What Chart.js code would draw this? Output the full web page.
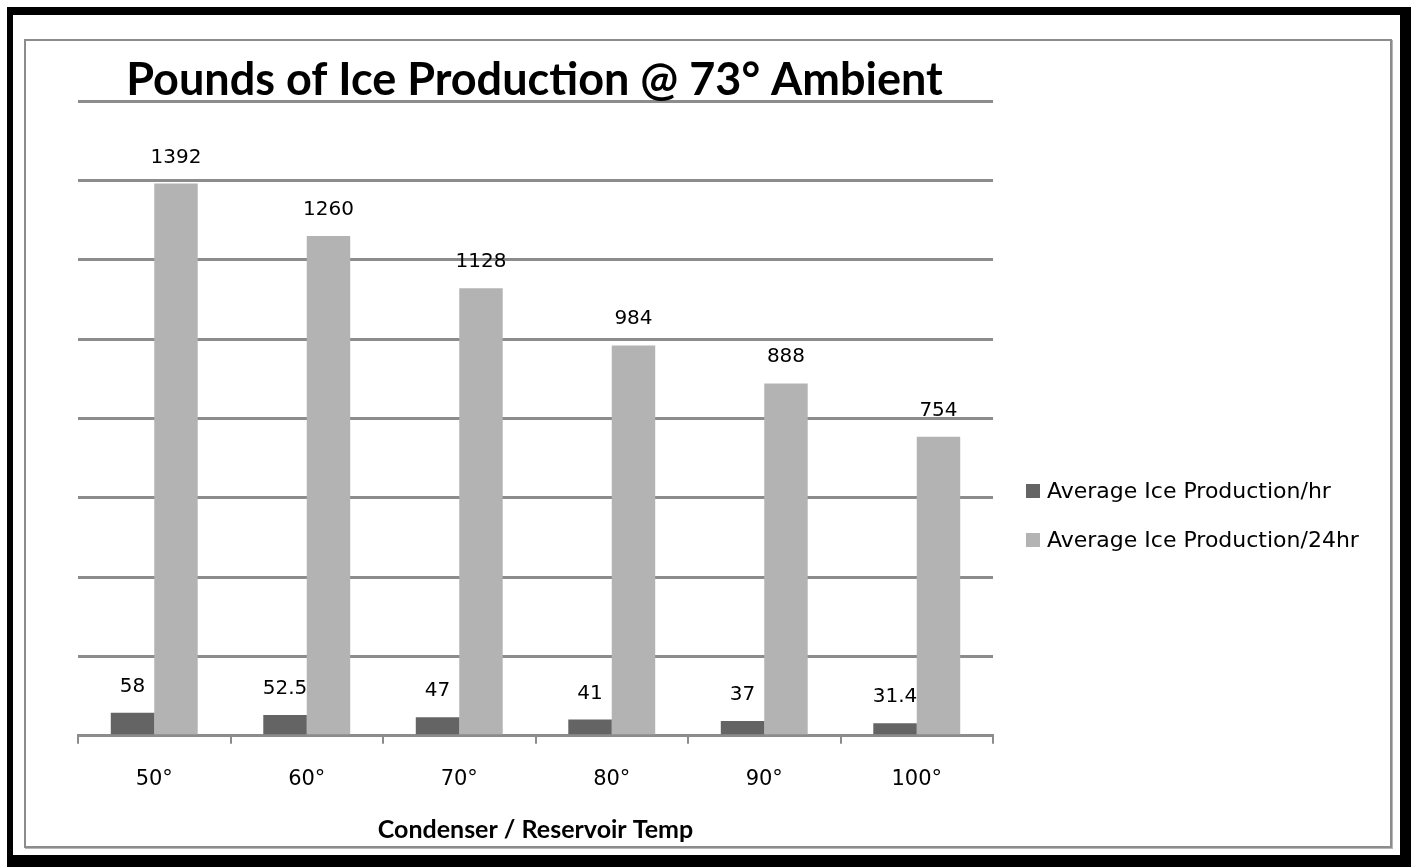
<!DOCTYPE html>
<html>
<head>
<meta charset="utf-8">
<script src="https://cdn.jsdelivr.net/npm/chart.js@4/dist/chart.umd.min.js"></script>
<style>
  html, body { margin: 0; padding: 0; background: #fff; }
  body { width: 1411px; height: 867px; position: relative; overflow: hidden; }
  #frame {
    position: absolute; left: 7px; top: 7px; width: 1404px; height: 860px;
    box-sizing: border-box; border-style: solid; border-color: #000;
    border-width: 8px 11px 12px 6px;
  }
  #box {
    position: absolute; left: 24px; top: 39px; width: 1368px; height: 809px;
    box-sizing: border-box; border: 2px solid #8c8c8c;
    box-shadow: 1px 1px 0 #b8b8b8;
  }
  #chart { position: absolute; left: 0; top: 0; }
</style>
</head>
<body>
<div id="frame"></div>
<div id="box"></div>
<canvas id="chart" width="1411" height="867"></canvas>
<script>
const categories = ['50°', '60°', '70°', '80°', '90°', '100°']
const perHour = [58, 52.5, 47, 41, 37, 31.4]
const per24Hours = [1392, 1260, 1128, 984, 888, 754]
const seriesNames = ['Average Ice Production/hr', 'Average Ice Production/24hr']
const chartTitle = 'Pounds of Ice Production @ 73° Ambient'
const xAxisTitle = 'Condenser / Reservoir Temp'

const GRID = '#8c8c8c'
const TEXT_FONT = '"DejaVu Sans", sans-serif'
const BOLD_FONT = 'Lato, "DejaVu Sans", sans-serif'

// value labels above every bar
const barLabels = {
  id: 'barLabels',
  afterDatasetsDraw (chart) {
    const ctx = chart.ctx
    ctx.save()
    ctx.font = '20px ' + TEXT_FONT
    ctx.fillStyle = '#000'
    ctx.textAlign = 'center'
    ctx.textBaseline = 'alphabetic'
    chart.data.datasets.forEach((ds, i) => {
      chart.getDatasetMeta(i).data.forEach((bar, j) => {
        ctx.fillText(String(ds.data[j]), bar.x, bar.y - 21)
      })
    })
    ctx.restore()
  }
}

// big title sitting on the top grid line
const topTitle = {
  id: 'topTitle',
  afterDraw (chart) {
    const ctx = chart.ctx
    const area = chart.chartArea
    ctx.save()
    ctx.font = 'bold 45px ' + BOLD_FONT
    ctx.fillStyle = '#000'
    ctx.textAlign = 'center'
    ctx.textBaseline = 'alphabetic'
    ctx.fillText(chartTitle, (area.left + area.right) / 2 - 1, 95)
    ctx.restore()
  }
}

// legend on the right, squares + names
const sideLegend = {
  id: 'sideLegend',
  afterDraw (chart) {
    const ctx = chart.ctx
    const x = 1026
    const rows = [491, 540]
    ctx.save()
    ctx.font = '22px ' + TEXT_FONT
    ctx.textBaseline = 'middle'
    ctx.textAlign = 'left'
    chart.data.datasets.forEach((ds, i) => {
      const y = rows[i]
      ctx.fillStyle = ds.backgroundColor
      ctx.fillRect(x, y - 7, 14, 14)
      ctx.fillStyle = '#000'
      ctx.fillText(ds.label, x + 21, y + 1)
    })
    ctx.restore()
  }
}

new Chart(document.getElementById('chart'), {
  type: 'bar',
  data: {
    labels: categories,
    datasets: [
      {
        label: seriesNames[0],
        data: perHour,
        backgroundColor: '#646464',
        barPercentage: 1,
        categoryPercentage: 0.57
      },
      {
        label: seriesNames[1],
        data: per24Hours,
        backgroundColor: '#b3b3b3',
        barPercentage: 1,
        categoryPercentage: 0.57
      }
    ]
  },
  options: {
    responsive: false,
    animation: false,
    layout: {
      padding: { left: 78, right: 418, top: 101, bottom: 20 }
    },
    plugins: {
      legend: { display: false },
      title: { display: false },
      tooltip: { enabled: false }
    },
    scales: {
      x: {
        grid: {
          offset: true,
          drawOnChartArea: false,
          drawTicks: true,
          tickLength: 8,
          color: GRID,
          lineWidth: 2
        },
        border: { display: true, color: GRID, width: 3 },
        ticks: {
          padding: 23,
          color: '#000',
          font: { family: TEXT_FONT, size: 21 }
        },
        title: {
          display: true,
          text: xAxisTitle,
          color: '#000',
          font: { family: BOLD_FONT, size: 25, weight: 'bold' },
          padding: { top: 0, bottom: 2 }
        }
      },
      y: {
        min: 0,
        max: 1600,
        ticks: { display: false, stepSize: 200 },
        border: { display: false },
        grid: {
          color: GRID,
          lineWidth: 3,
          drawTicks: false
        }
      }
    }
  },
  plugins: [barLabels, topTitle, sideLegend]
})
</script>
</body>
</html>
